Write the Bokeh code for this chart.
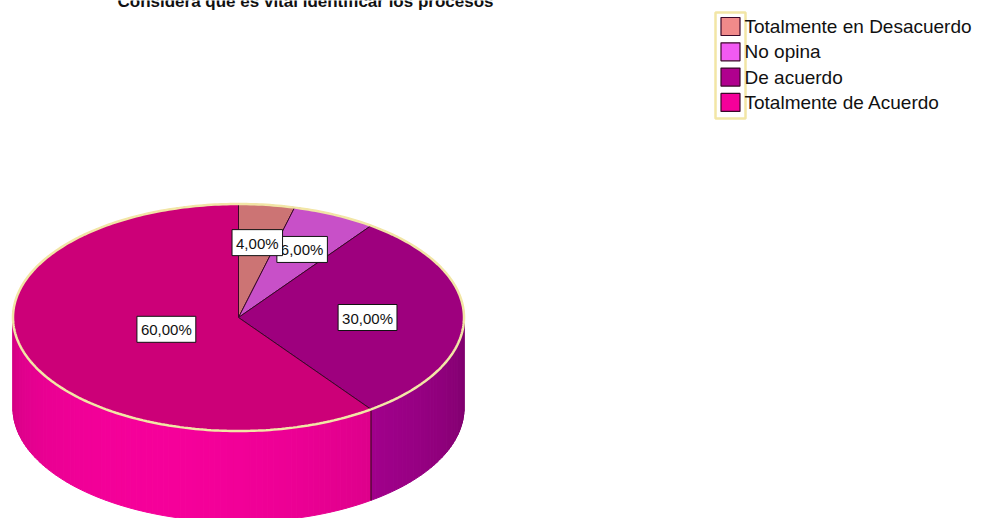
import math
import numpy as np
from bokeh.plotting import figure
from bokeh.models import Range1d
from bokeh.embed import file_html
from bokeh.resources import INLINE
from bokeh.core.properties import value

# ---------------- data ----------------
title_text = "Considera que es vital identificar los procesos"
categories = ["Totalmente en Desacuerdo", "No opina", "De acuerdo", "Totalmente de Acuerdo"]
percentages = [4.0, 6.0, 30.0, 60.0]
label_texts = ["4,00%", "6,00%", "30,00%", "60,00%"]

# ---------------- styles ----------------
legend_colors = ["#f08a8a", "#f25af2", "#b0008e", "#f5009a"]
top_colors = ["#cc7474", "#c850c8", "#9e007e", "#cc0078"]
side_colors = ["#e07f7f", "#e060e0", "#b2009a", "#f5009a"]
edge_color = "#3a0828"
rim_color = "#f2e6a6"
FONT = "Liberation Sans"

W, H = 984, 518
p = figure(width=W, height=H, x_range=Range1d(0, W), y_range=Range1d(H, 0),
           output_backend="svg", toolbar_location=None, min_border=0,
           x_axis_type=None, y_axis_type=None, title=None)
p.grid.visible = False
p.outline_line_color = None
p.background_fill_color = "white"
p.border_fill_color = "white"

# pie geometry (layout)
cx, cy, rx, ry, depth = 238.0, 317.0, 225.5, 113.5, 91.0


def pt(theta_deg, yoff=0.0):
    t = math.radians(theta_deg)
    return cx + rx * math.sin(t), cy - ry * math.cos(t) + yoff


def shade(hexcol, f):
    h = hexcol.lstrip("#")
    r, g, b = (int(h[i:i + 2], 16) for i in (0, 2, 4))
    return "#%02x%02x%02x" % tuple(max(0, min(255, int(round(c * f)))) for c in (r, g, b))


total = sum(percentages)
starts, ends = [], []
acc = 0.0
for v in percentages:
    starts.append(acc / total * 360.0)
    acc += v
    ends.append(acc / total * 360.0)

# ---------------- side wall (front half) ----------------
sx, sy, sc = [], [], []
for i in range(len(percentages)):
    a0 = max(starts[i], 90.0)
    a1 = min(ends[i], 270.0)
    if a1 <= a0:
        continue
    n = max(2, int((a1 - a0) / 1.5))
    angs = np.linspace(a0, a1, n + 1)
    for k in range(n):
        t0, t1 = angs[k], angs[k + 1]
        x0, y0 = pt(t0)
        x1, y1 = pt(t1)
        tm = 0.5 * (t0 + t1)
        f = 0.78 + 0.22 * math.cos(math.radians(tm - 200.0))
        col = shade(side_colors[i], f)
        sx.append([x0, x1, x1, x0])
        sy.append([y0, y1, y1 + depth, y0 + depth])
        sc.append(col)
p.patches(sx, sy, fill_color=sc, line_color=sc, line_width=1)

# slice edges on the side wall
for i in range(len(percentages)):
    b = ends[i]
    if 90.0 < b < 270.0:
        x0, y0 = pt(b)
        p.line([x0, x0], [y0, y0 + depth], line_color=edge_color, line_width=1.2)

# ---------------- top surface ----------------
tx, ty = [], []
for i in range(len(percentages)):
    n = max(4, int((ends[i] - starts[i]) / 1.0))
    angs = np.linspace(starts[i], ends[i], n + 1)
    xs = [cx] + [pt(a)[0] for a in angs]
    ys = [cy] + [pt(a)[1] for a in angs]
    tx.append(xs)
    ty.append(ys)
p.patches(tx, ty, fill_color=top_colors, line_color=edge_color, line_width=1)

# cream rim around top ellipse
angs = np.linspace(0, 360, 361)
p.line([pt(a)[0] for a in angs], [pt(a)[1] for a in angs], line_color=rim_color, line_width=2.5)

# ---------------- value labels (sector centroids) ----------------
lx, ly = [], []
for i in range(len(percentages)):
    half = math.radians(ends[i] - starts[i]) / 2.0
    fr = 2.0 * math.sin(half) / (3.0 * half)
    mid = 0.5 * (starts[i] + ends[i])
    t = math.radians(mid)
    lx.append(cx + fr * rx * math.sin(t))
    ly.append(cy - fr * ry * math.cos(t))
order = list(range(len(percentages)))[::-1]
p.text(x=[lx[i] for i in order], y=[ly[i] for i in order], text=[label_texts[i] for i in order],
       text_align="center", text_baseline="middle", text_font=value(FONT),
       text_font_size="15px", text_color="#111111",
       background_fill_color="white", border_line_color="#111111", border_line_width=1,
       padding=dict(left=4, right=4, top=5, bottom=4))

# ---------------- legend ----------------
leg_x, leg_y0, leg_dy = 730.0, 26.0, 25.3
rows_y = [leg_y0 + i * leg_dy for i in range(len(categories))]
p.quad(left=[715], right=[745], top=[12], bottom=[118], fill_color=None,
       line_color=rim_color, line_width=2.5)
p.rect(x=[leg_x] * len(categories), y=rows_y, width=19, height=18,
       fill_color=legend_colors, line_color=edge_color, line_width=1.2)
p.text(x=[744] * len(categories), y=rows_y, text=categories, text_align="left",
       text_baseline="middle", text_font=value(FONT), text_font_size="19px",
       text_color="#111111")

# ---------------- title (partly above the top edge, as in the reference) ----------------
p.text(x=[305], y=[10], text=[title_text], text_align="center", text_baseline="bottom",
       text_font=value(FONT), text_font_size="17px", text_font_style="bold",
       text_color="#111111")

open("out.html", "w").write(file_html(p, INLINE))
